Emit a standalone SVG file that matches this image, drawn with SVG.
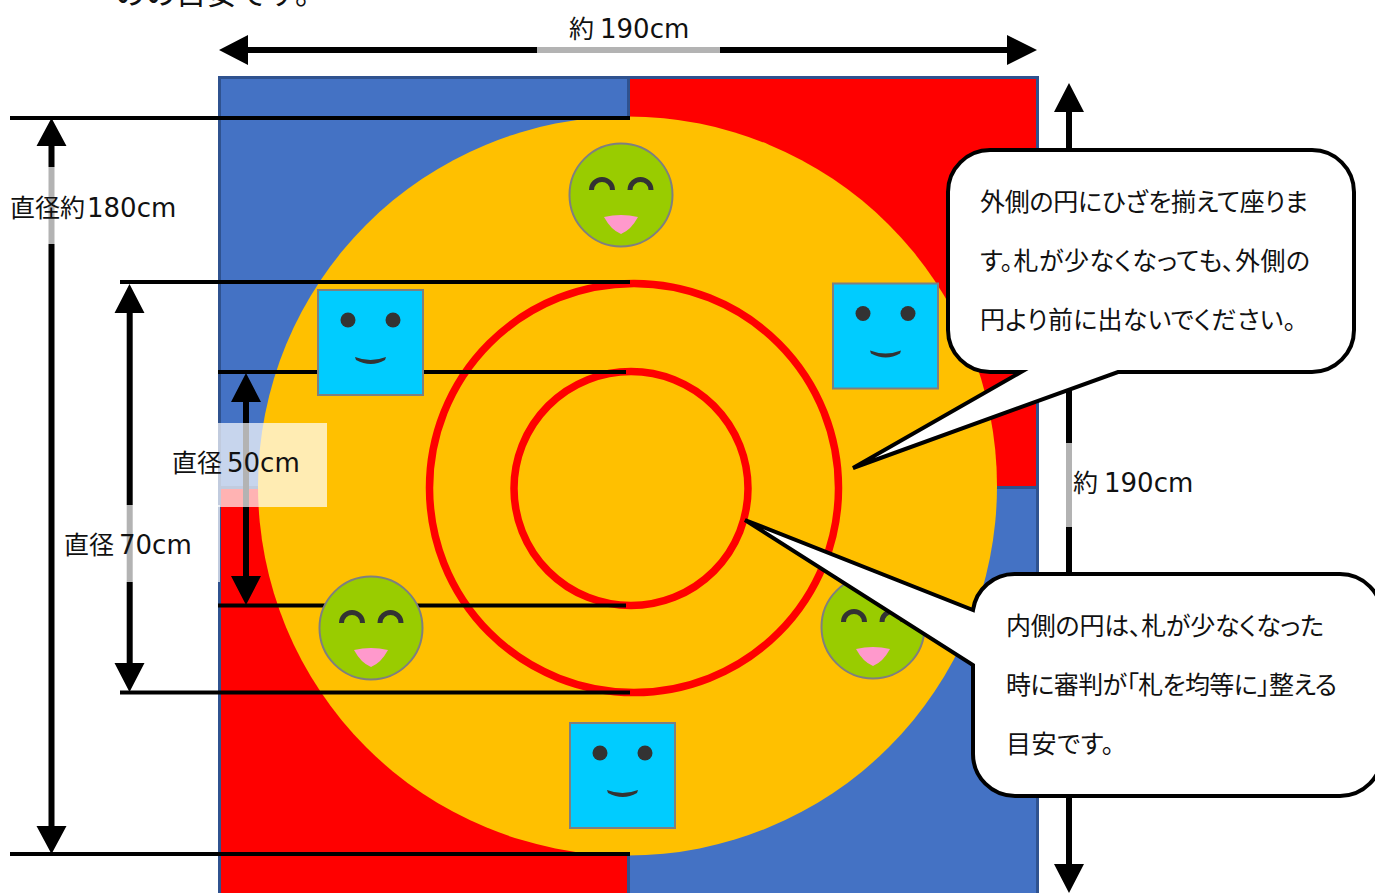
<svg xmlns="http://www.w3.org/2000/svg" width="1375" height="893" viewBox="0 0 1375 893">
<style>
text{font-family:"Noto Sans CJK JP","Noto Sans",sans-serif;fill:#111;font-size:25px}
.lat{font-family:"DejaVu Sans","Noto Sans",sans-serif;font-size:26px}
.c{font-size:25px;font-feature-settings:"palt"}
.ln{stroke:#000;stroke-width:4;fill:none}
.dim{stroke:#000;stroke-width:6;fill:none}
.ar{fill:#000}
.veil{fill:#fff;fill-opacity:.7}
.sq{fill:#0cf;stroke:#7f7f7f;stroke-width:2}
.ci{fill:#9c0;stroke:#7f7f7f;stroke-width:2}
.e{fill:#333}
.m{fill:none;stroke:#333;stroke-width:5}
.mo{fill:#333}
.tg{fill:#f9c}
.ring{fill:none;stroke:#f00;stroke-width:7.500}
.call{fill:#fff;stroke:#000;stroke-width:4}
.mat{stroke:#2f528f;stroke-width:3}
</style>
<defs>
<g id="smile"><circle cx="0" cy="0" r="51.500" class="ci"/><path class="m" d="M-29.500-5a10.500 10.500 0 0 1 21 0M9-5a10.500 10.500 0 0 1 21 0"/><path class="tg" d="M-17 22q17-4 34 0q-7 13-17 17q-10-4-17-17z"/></g>
<g id="square"><rect x="-52.500" y="-52.500" width="105" height="105" class="sq"/><circle class="e" cx="-22.500" cy="-22.500" r="7.500"/><circle class="e" cx="22.500" cy="-22.500" r="7.500"/><path class="mo" d="M-15.500 14.500q15.500 6 31 0l-1 3q-14 8-29 0z"/></g>
</defs>
<text x="115" y="4" style="font-size:30.500px">のの目安です。</text>
<g id="mat">
<rect x="219.500" y="77.500" width="409" height="410" fill="#4472c4" class="mat"/>
<rect x="628.500" y="77.500" width="409" height="410" fill="#f00" class="mat"/>
<rect x="219.500" y="487.500" width="409" height="410" fill="#f00" class="mat"/>
<rect x="628.500" y="487.500" width="409" height="410" fill="#4472c4" class="mat"/>
<circle cx="627.500" cy="486" r="369.500" fill="#ffc000"/>
</g>
<g id="ring-outer"><circle cx="634" cy="488" r="204.500" class="ring"/></g>
<g id="ring-inner"><circle cx="631" cy="488.500" r="117" class="ring"/></g>
<g id="connectors">
<path class="ln" d="M10 118H630M120 282H630M218 372H626M218 605.500H626M120 692.500H630M10 854H630"/>
<path class="dim" d="M246 400V578M129.700 310V665M51.500 146V826M245 50H1010M1069 110V865"/>
<path class="ar" d="M219 50l29-15v30zM1037 50l-30-15v30zM51.500 118l15 28h-30zM51.500 854l15-28h-30zM129.500 284l15 29h-30zM129.500 692l15-29h-30zM246 373l15 29h-30zM246 605l15-29h-30zM1069 83l15 29h-30zM1069 893l15-29h-30z"/>
</g>
<g id="face-top"><use href="#smile" x="621" y="195"/></g>
<g id="face-left"><use href="#smile" x="371" y="628"/></g>
<g id="face-right"><use href="#smile" x="873" y="627"/></g>
<g id="sq-left"><use href="#square" x="370.500" y="342.500"/></g>
<g id="sq-right"><use href="#square" x="885.500" y="336"/></g>
<g id="sq-bottom"><use href="#square" x="622.500" y="775.500"/></g>
<g id="label-50"><rect x="140" y="423" width="187" height="84" class="veil"/><text y="472"><tspan x="172">直径</tspan><tspan class="lat" x="227">50cm</tspan></text></g>
<g id="label-70"><rect x="60" y="505" width="160" height="77" class="veil"/><text y="554"><tspan x="64">直径</tspan><tspan class="lat" x="119">70cm</tspan></text></g>
<g id="label-180"><rect x="5" y="167" width="175" height="77" class="veil"/><text y="217"><tspan x="10">直径約</tspan><tspan class="lat" x="87">180cm</tspan></text></g>
<g id="label-top"><rect x="537" y="8" width="183" height="45" class="veil"/><text y="38"><tspan x="569">約</tspan><tspan class="lat" x="600">190cm</tspan></text></g>
<g id="label-right"><rect x="1066" y="443" width="135" height="84" class="veil"/><text y="492"><tspan x="1073">約</tspan><tspan class="lat" x="1104">190cm</tspan></text></g>
<g id="callout-outer">
<path class="call" d="M990 150H1312a42 42 0 0 1 42 42V330a42 42 0 0 1-42 42H1118L853 468L1021 372H990a42 42 0 0 1-42-42V192a42 42 0 0 1 42-42z"/>
<text x="980" y="211" class="c" textLength="328" lengthAdjust="spacing">外側の円にひざを揃えて座りま</text>
<text x="980" y="270" class="c" textLength="330" lengthAdjust="spacing">す。札が少なくなっても、外側の</text>
<text x="980" y="329" class="c" textLength="316" lengthAdjust="spacing">円より前に出ないでください。</text>
</g>
<g id="callout-inner">
<path class="call" d="M1015 574H1340a42 42 0 0 1 42 42V754a42 42 0 0 1-42 42H1015a42 42 0 0 1-42-42V665L745 520L973 610a42 42 0 0 1 42-36z"/>
<text x="1006" y="635" class="c" textLength="318" lengthAdjust="spacing">内側の円は、札が少なくなった</text>
<text x="1006" y="694" class="c" textLength="331" lengthAdjust="spacing">時に審判が「札を均等に」整える</text>
<text x="1006" y="753" class="c" textLength="108" lengthAdjust="spacing">目安です。</text>
</g>
</svg>
